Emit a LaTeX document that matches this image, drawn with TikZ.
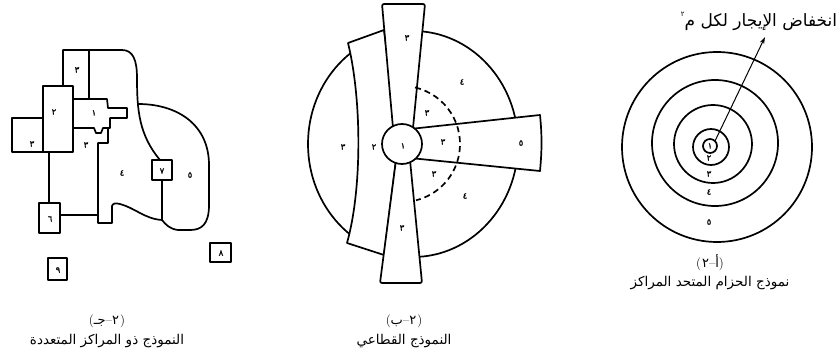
\documentclass[tikz,border=0pt]{standalone}
\usepackage{fontspec}
\newfontfamily\arabicfont[Script=Arabic]{DejaVu Sans}
\newfontfamily\arabicnum[Script=Arabic,FakeBold=1.2]{DejaVu Sans}
\TeXXeTstate=1
\usetikzlibrary{arrows.meta}
\begin{document}
\begin{tikzpicture}[x=1pt,y=-1pt,line join=round,
  fig/.style={line width=1.7pt,line join=round},
  numlbl/.style={font=\arabicnum\fontsize{8.5}{9}\selectfont,inner sep=0pt},
  captxt/.style={font=\arabicfont\fontsize{13.5}{15}\selectfont,inner sep=0pt},
  capnum/.style={font=\fontsize{13}{15}\selectfont,inner sep=0pt},
  toptext/.style={font=\arabicfont\fontsize{17}{19}\selectfont,inner sep=0pt}]
\useasboundingbox[fill=white] (0,0) rectangle (837,358);

% ---------------- left figure: multiple nuclei ----------------
\draw[fig] (43,86) rectangle (73,152);
\draw[fig] (12,118) rectangle (43,152);
\draw[fig] (63,86) -- (63,50) -- (122,50)
  .. controls (133,50) and (137,60) .. (137,78)
  .. controls (137,110) and (139,135) .. (160,160);
\draw[fig] (89,50) -- (89,99);
\draw[fig] (73,99) -- (107,99) -- (108,108) -- (127,108) -- (127,118) -- (110,118)
  -- (110,128) -- (103,128) -- (101,133) -- (96,133) -- (94,128) -- (73,128);
\draw[fig] (108,128) -- (108,143) -- (98,143) -- (98,223) -- (112,223) -- (112,206)
  .. controls (113,203) and (116,203) .. (120,204)
  .. controls (135,208) and (145,219) .. (162,220);
\draw[fig] (138,104) .. controls (178,104) and (209,125) .. (209,165) -- (209,205)
  .. controls (209,225) and (201,230) .. (190,230) -- (178,230)
  .. controls (170,229) and (166,225) .. (162,220);
\draw[fig] (152,160) rectangle (172,180);
\draw[fig] (162,180) -- (162,220);
\draw[fig] (49,152) -- (49,203);
\draw[fig] (39,203) rectangle (60,233);
\draw[fig] (60,215) -- (98,215);
\draw[fig] (210,243) rectangle (231,262);
\draw[fig] (48,258) rectangle (67,280);
\node[numlbl] (l3a) at (77,70) {٣};
\node[numlbl] (l2) at (54,112) {٢};
\node[numlbl] (l1) at (94,113) {١};
\node[numlbl] (l3b) at (32,144) {٣};
\node[numlbl] (l3c) at (86,145) {٣};
\node[numlbl] (l4) at (122,173) {٤};
\node[numlbl] (l7) at (162,171) {٧};
\node[numlbl] (l5) at (190,175) {٥};
\node[numlbl] (l6) at (50,219) {٦};
\node[numlbl] (l8) at (221,253) {٨};
\node[numlbl] (l9) at (58,270) {٩};
\node[capnum] (lc1) at (107,321) {({\arabicfont جـ}--{\arabicfont ٢}\kern1pt)};
\node[captxt] (lc2) at (107,341) {\beginR النموذج ذو المراكز المتعددة\endR};

% ---------------- middle figure: sector model ----------------
\draw[fig] (413,144) ellipse[x radius=105,y radius=113];
\draw[fig,fill=white] (348,43) -- (384,30) -- (398,144) -- (384,255) -- (347,243)
  .. controls (362,190) and (362,100) .. cycle;
\draw[fig,fill=white] (410,129) -- (540,115) .. controls (542,135) and (542,150) .. (540,171) -- (410,158) -- cycle;
\draw[fig,fill=white,rounded corners=2pt] (393,128) -- (382,4) -- (425,4) -- (413,128);
\draw[fig,fill=white,rounded corners=2pt] (396,160) -- (380,283) -- (422,283) -- (410,160);
\draw[fig,fill=white] (402,144) circle[radius=20];
\draw[fig,dashed,dash pattern=on 6pt off 4pt] (402,144) ++(-77:58) arc[start angle=-77,end angle=76,radius=58];
\node[numlbl] (m1) at (403,146) {١};
\node[numlbl] (m3t) at (407,38) {٣};
\node[numlbl] (m3b) at (402,228) {٣};
\node[numlbl] (m2) at (374,147) {٢};
\node[numlbl] (m3l) at (343,147) {٣};
\node[numlbl] (m4t) at (462,82) {٤};
\node[numlbl] (m4b) at (465,196) {٤};
\node[numlbl] (m3u) at (427,113) {٣};
\node[numlbl] (m3r) at (443,142) {٣};
\node[numlbl] (m3d) at (434,174) {٣};
\node[numlbl] (m5) at (521,143) {٥};
\node[capnum] (mc1) at (404,321) {({\arabicfont ب}--{\arabicfont ٢}\kern1pt)};
\node[captxt] (mc2) at (404,341) {\beginR النموذج القطاعي\endR};

% ---------------- right figure: concentric zones ----------------
\draw[fig] (717,147) circle[radius=95];
\draw[fig] (715,143) circle[radius=63];
\draw[fig] (713,144) circle[radius=39];
\draw[fig] (711,147) circle[radius=18];
\draw[fig] (710,146) circle[radius=7];
\node[numlbl] (r1) at (710,146) {١};
\node[numlbl] (r2) at (709,158) {٢};
\node[numlbl] (r3) at (709,174) {٣};
\node[numlbl] (r4) at (709,192) {٤};
\node[numlbl] (r5) at (709,222) {٥};
\coordinate (tip) at (765,37);
\draw[line width=1pt,-{Stealth[length=7pt,width=4.5pt]}] (r1) ++(5,-5) -- (tip);
\node[toptext,anchor=base] (tt) at (759,27) {\beginR انخفاض الإيجار لكل م\raisebox{1.1ex}{\fontsize{7}{7}\selectfont ٢}\endR};
\node[capnum] (rc1) at (710,263) {(\kern1pt{\arabicfont ٢}--{\arabicfont أ})};
\node[captxt] (rc2) at (710,283) {\beginR نموذج الحزام المتحد المراكز\endR};
\end{tikzpicture}
\end{document}
